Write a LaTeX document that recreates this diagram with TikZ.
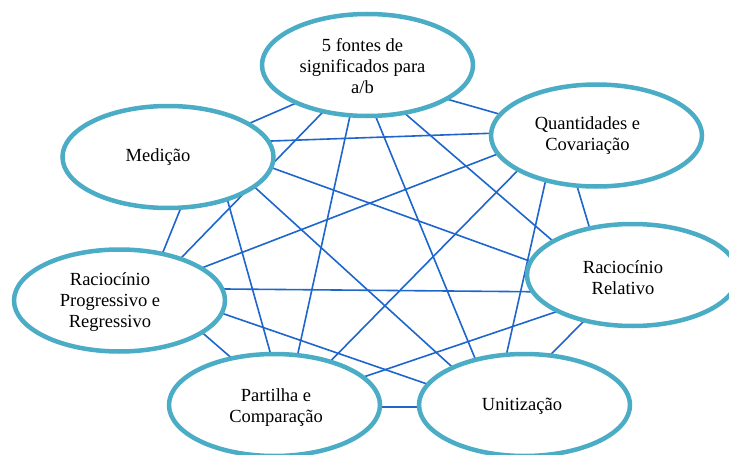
\documentclass[tikz,border=0pt]{standalone}
\usepackage{fontspec}
\setmainfont{Liberation Serif}
\usetikzlibrary{shapes.geometric,calc,backgrounds}
\definecolor{ringc}{RGB}{75,172,198}
\definecolor{linkc}{RGB}{30,102,205}
\begin{document}
\begin{tikzpicture}[x=1pt,y=-1pt,
  bub/.style={ellipse, draw=ringc, line width=4.5pt, fill=white,
    minimum width=211pt, minimum height=102pt, inner sep=0pt},
  txt/.style={align=center, font=\fontsize{18.5}{21}\selectfont, text=black},
  link/.style={draw=linkc, line width=1.6pt, shorten <=-5pt, shorten >=-5pt}]
\useasboundingbox (0,0) rectangle (729,455);
% nodes
\node[bub, label={[txt,xshift=-5pt,yshift=-1.5pt]center:5 fontes de\\significados para\\a/b}] (T) at (367.5,65) {};
\node[bub, label={[txt,xshift=-10pt]center:Medição}] (M) at (168,157) {};
\node[bub, label={[txt,xshift=-9pt]center:Quantidades e\\Covariação}] (Q) at (596.5,135.5) {};
\node[bub, label={[txt,xshift=-9.5pt,yshift=-3pt]center:Raciocínio\\Relativo}] (RR) at (632.5,275) {};
\node[bub, label={[txt,xshift=-9.5pt,yshift=-2pt]center:Raciocínio\\Progressivo e\\Regressivo}] (RPR) at (119.5,300.5) {};
\node[bub, label={[txt,xshift=1.5pt,yshift=-2.5pt]center:Partilha e\\Comparação}] (P) at (274.5,405) {};
\node[bub, label={[txt,xshift=-2.5pt,yshift=-1.5pt]center:Unitização}] (U) at (524.5,405) {};
% connectors behind the ellipses
\begin{scope}[on background layer]
\fill[white] (0,0) rectangle (729,455);
\draw[link] ($(T)+(-74.2,39.3)$) -- ($(M)+(83.7,-34.7)$);
\draw[link] ($(T)+(-46.8,49.3)$) -- ($(RPR)+(62.5,-43.5)$);
\draw[link] ($(T)+(-18.2,54)$) -- ($(P)+(23.8,-53.3)$);
\draw[link] ($(T)+(9.2,54)$) -- ($(U)+(-49.5,-46.7)$);
\draw[link] ($(T)+(39.2,50)$) -- ($(RR)+(-80.8,-35)$);
\draw[link] ($(T)+(82.5,35)$) -- ($(Q)+(-99.8,-22.2)$);
\draw[link] ($(M)+(103.7,-16)$) -- ($(Q)+(-106.5,-2.2)$);
\draw[link] ($(M)+(105.3,11.3)$) -- ($(RR)+(-105.8,-15)$);
\draw[link] ($(M)+(88.7,32)$) -- ($(U)+(-74.5,-40)$);
\draw[link] ($(M)+(60,45)$) -- ($(P)+(-4.5,-53.3)$);
\draw[link] ($(M)+(12,53)$) -- ($(RPR)+(43.5,-48.5)$);
\draw[link] ($(Q)+(-101.5,19.5)$) -- ($(RPR)+(85.5,-33.8)$);
\draw[link] ($(Q)+(-81.5,37.8)$) -- ($(P)+(58.8,-46.7)$);
\draw[link] ($(Q)+(-51.5,47.8)$) -- ($(U)+(-17.8,-51.7)$);
\draw[link] ($(Q)+(-19.8,49.5)$) -- ($(RR)+(-43.5,-49)$);
\draw[link] ($(RPR)+(105.5,-11.5)$) -- ($(RR)+(-105.8,16.7)$);
\draw[link] ($(RPR)+(105.5,13.8)$) -- ($(U)+(-99.5,-21.7)$);
\draw[link] ($(RPR)+(85.5,34.5)$) -- ($(P)+(-44.5,-48.3)$);
\draw[link] ($(P)+(90.5,-28.5)$) -- ($(RR)+(-80.8,38.3)$);
\draw[link] ($(P)+(105.5,2)$) -- ($(U)+(-105.5,2)$);
\draw[link] ($(U)+(27.5,-51.7)$) -- ($(RR)+(-52.5,50)$);
\end{scope}
\end{tikzpicture}
\end{document}
